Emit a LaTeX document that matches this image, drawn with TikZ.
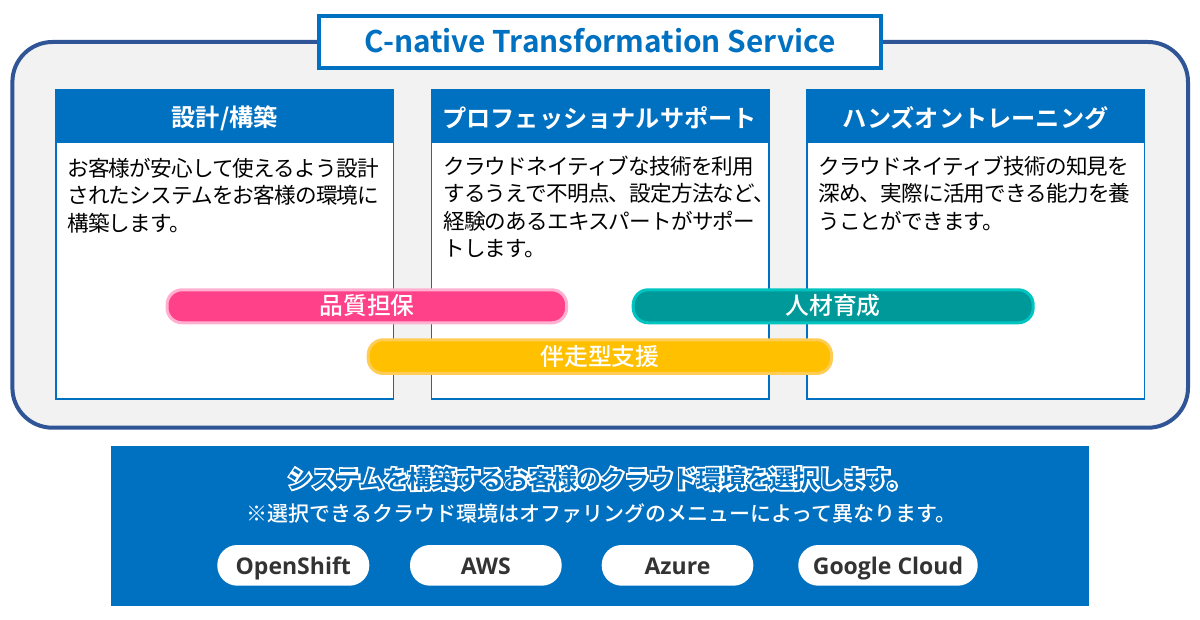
\documentclass[tikz,border=0pt]{standalone}
\usepackage{fontspec}
\setmainfont{Noto Sans CJK JP}
\newfontfamily\jpbody{Noto Sans CJK JP}[LetterSpace=-3.7]
\newfontfamily\jpbold{Noto Sans CJK JP Bold}
\newfontfamily\jpband{Noto Sans CJK JP Bold}[LetterSpace=-3.5]
\newfontfamily\jpmed{Noto Sans CJK JP Medium}
\newfontfamily\jphalo{Noto Sans CJK JP Bold}[FakeBold=14,LetterSpace=-3.5]
\newfontfamily\latinbold{Open Sans Bold}
\definecolor{mainblue}{HTML}{0070C0}
\definecolor{framenavy}{HTML}{2F5597}
\definecolor{panelgray}{HTML}{F2F2F2}
\definecolor{pinkfill}{HTML}{FF4189}
\definecolor{pinkedge}{HTML}{FFB0D0}
\definecolor{tealfill}{HTML}{009999}
\definecolor{tealedge}{HTML}{00C4C0}
\definecolor{goldfill}{HTML}{FFC000}
\definecolor{goldedge}{HTML}{FFCC55}
\definecolor{darktext}{HTML}{333333}
\tikzset{
  x=1pt,y=-1pt,
  cardbox/.style={draw=mainblue,line width=1.6pt,fill=white},
  cardhead/.style={fill=mainblue},
  headtext/.style={text=white,font=\jpbold\fontsize{24.2}{28}\selectfont,inner sep=0pt,anchor=center},
  bodytext/.style={text=black,font=\jpbody\fontsize{21.6}{27.4}\selectfont,inner sep=0pt,anchor=north west,align=left},
  pilltext/.style={text=white,font=\jpmed\fontsize{23.8}{28}\selectfont,inner sep=0pt,anchor=center},
  cloudpill/.style={fill=white,rounded corners=20pt},
  cloudtext/.style={text=darktext,font=\latinbold\fontsize{23}{28}\selectfont,inner sep=0pt,anchor=base},
  stripe/.style={line width=3pt,rounded corners=15pt},
}
\begin{document}
\begin{tikzpicture}
\useasboundingbox (0,0) rectangle (1200,620);
\fill[white] (0,0) rectangle (1200,620);
% outer frame
\draw[draw=framenavy,fill=panelgray,line width=4pt,rounded corners=40pt] (12.4,42) rectangle (1188,427.7);
% title
\draw[draw=mainblue,fill=white,line width=4.4pt] (319.2,16) rectangle (881,68);
\node[text=mainblue,font=\jpbold\fontsize{29.8}{36}\selectfont,inner sep=0pt] (title) at (600,41) {C-native Transformation Service};
% cards
\draw[cardbox] (56,90) rectangle (393.5,399);
\fill[cardhead] (55.2,89.5) rectangle (394.3,143);
\draw[cardbox] (431.6,90) rectangle (769.2,399);
\fill[cardhead] (430.8,89.5) rectangle (770,143);
\draw[cardbox] (807,90) rectangle (1144.5,399);
\fill[cardhead] (806.2,89.5) rectangle (1145.3,143);
\node[headtext] (h1) at (224.7,118) {設計/構築};
\node[headtext] (h2) at (599.5,118) {プロフェッショナルサポート};
\node[headtext] (h3) at (975.7,118) {ハンズオントレーニング};
\node[bodytext] (b1) at (67,158) {お客様が安心して使えるよう設計\\されたシステムをお客様の環境に\\構築します。};
\node[bodytext] (b2) at (443,155.5) {クラウドネイティブな技術を利用\\するうえで不明点、設定方法など、\\経験のあるエキスパートがサポー\\トします。};
\node[bodytext] (b3) at (818,155.5) {クラウドネイティブ技術の知見を\\深め、実際に活用できる能力を養\\うことができます。};
% stripes
\draw[stripe,draw=pinkedge,fill=pinkfill] (167,289.8) rectangle (566.7,322.8);
\draw[stripe,draw=tealedge,fill=tealfill] (633.2,289.8) rectangle (1033.2,322.8);
\draw[stripe,draw=goldedge,fill=goldfill] (368.2,339.8) rectangle (831.5,373.5);
\node[pilltext] (p1) at (367,306) {品質担保};
\node[pilltext] (p2) at (833,306) {人材育成};
\node[pilltext] (p3) at (600,356) {伴走型支援};
% bottom band
\fill[mainblue] (111,446.3) rectangle (1088.7,606);
\node[inner sep=0pt,text=white,font=\jphalo\fontsize{25}{28}\selectfont] (bandhalo) at (600,478.5) {システムを構築するお客様のクラウド環境を選択します。};
\node[inner sep=0pt,text=mainblue,font=\jpband\fontsize{25}{28}\selectfont] (band) at (600,478.5) {システムを構築するお客様のクラウド環境を選択します。};
\node[inner sep=0pt,text=white,font=\jpmed\fontsize{21}{26}\selectfont] (bandnote) at (601.5,513.5) {※選択できるクラウド環境はオファリングのメニューによって異なります。};
\fill[cloudpill] (217.3,545) rectangle (369.3,585.7);
\fill[cloudpill] (410,545) rectangle (561.7,585.7);
\fill[cloudpill] (601.7,545) rectangle (753.3,585.7);
\fill[cloudpill] (798.3,545) rectangle (977.7,585.7);
\node[cloudtext] (c1) at (293.3,574) {OpenShift};
\node[cloudtext] (c2) at (485.8,574) {AWS};
\node[cloudtext] (c3) at (677.5,574) {Azure};
\node[cloudtext] (c4) at (888,574) {Google Cloud};
\end{tikzpicture}
\end{document}
